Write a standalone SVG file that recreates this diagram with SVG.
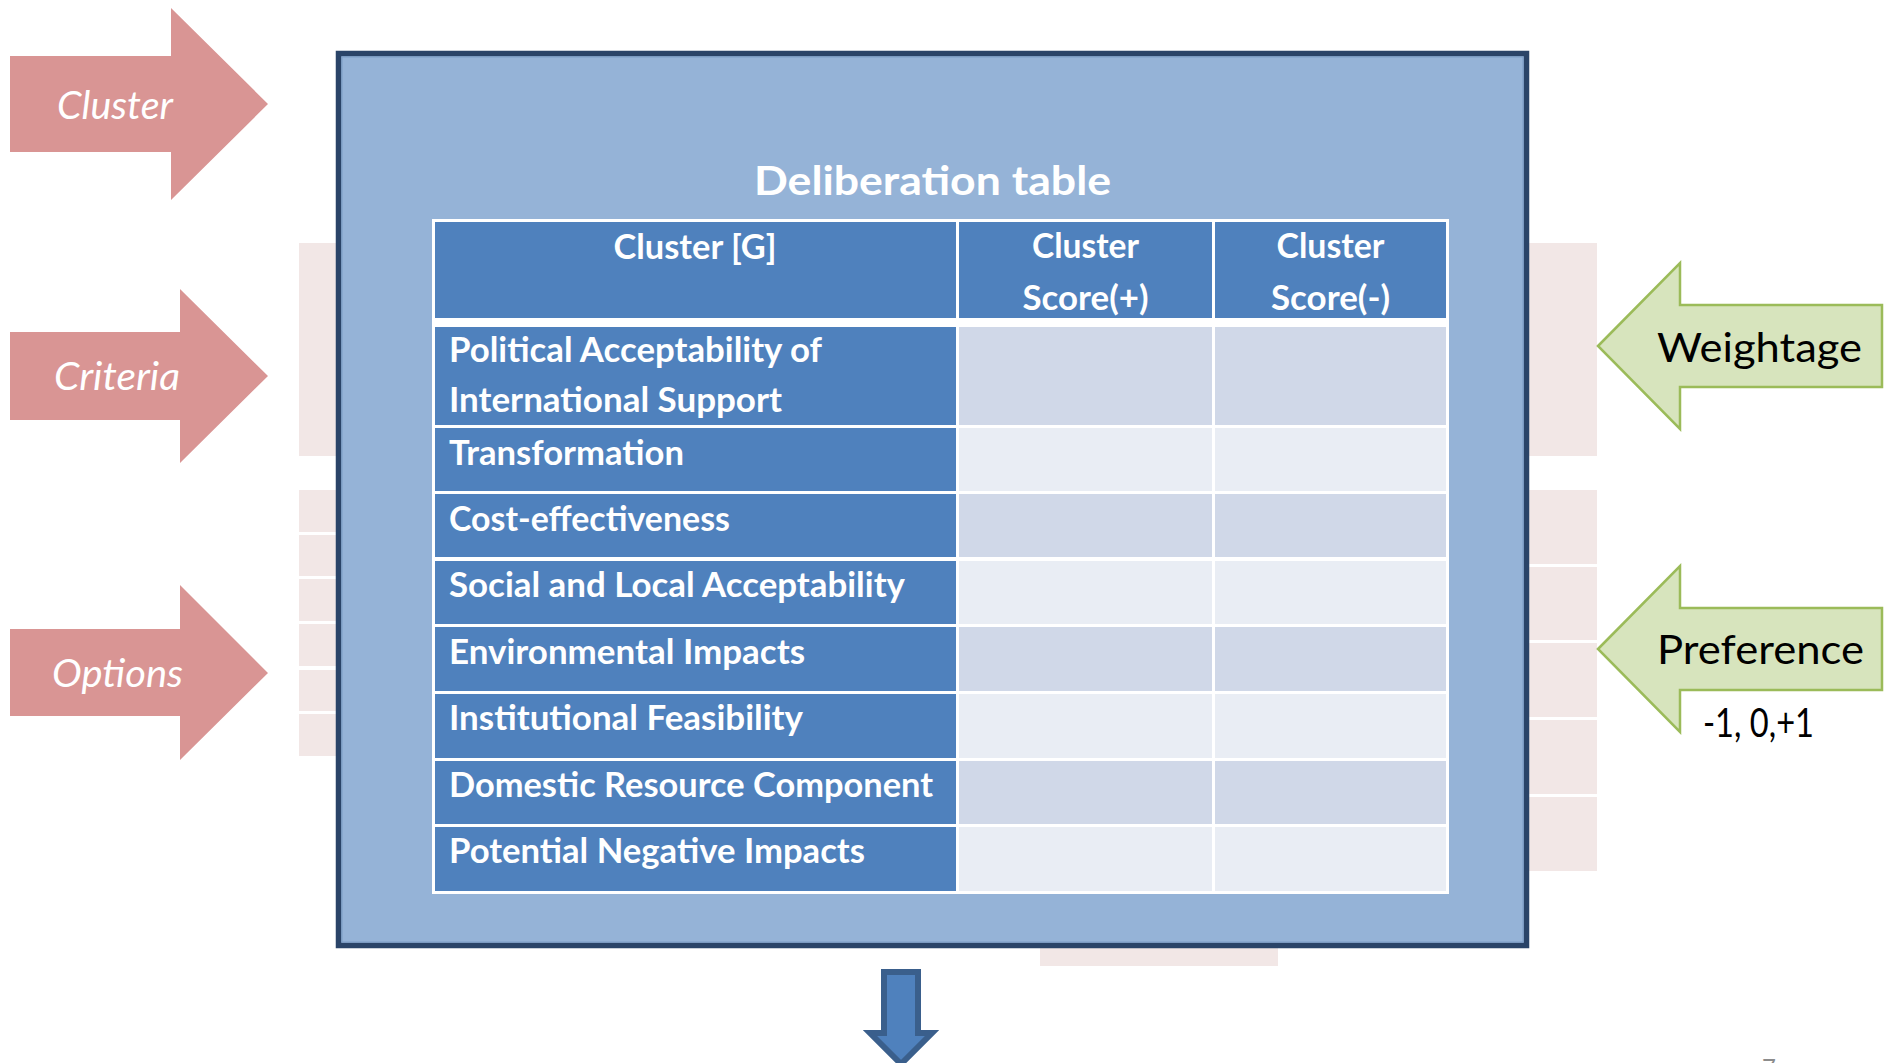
<svg xmlns="http://www.w3.org/2000/svg" width="1885" height="1063" viewBox="0 0 1885 1063">
<style>
.pink{fill:#f2e7e6}
.parrow{fill:#d99594}
.garrow{fill:#d7e4bd;stroke:#9bbb59;stroke-width:2.5;stroke-linejoin:miter}
.hd{fill:#4f81bd}
.d1{fill:#d0d8e8}
.d2{fill:#e9edf4}
.lab{font-family:Lato,"Open Sans","Liberation Sans",sans-serif;font-style:italic;font-size:38px;fill:#ffffff}
.glab{font-family:Lato,"Open Sans","Liberation Sans",sans-serif;font-size:41px;fill:#000000}
.tt{font-family:Lato,"Open Sans","Liberation Sans",sans-serif;font-weight:bold;font-size:33.5px;fill:#ffffff}
.title{font-family:Lato,"Open Sans","Liberation Sans",sans-serif;font-weight:bold;font-size:41px;fill:#ffffff}
</style>
<rect width="1885" height="1063" fill="#ffffff"/>
<g id="background-blocks">
<rect class="pink" x="299" y="243" width="40" height="213"/>
<rect class="pink" x="299" y="490" width="40" height="42"/>
<rect class="pink" x="299" y="535" width="40" height="41"/>
<rect class="pink" x="299" y="579" width="40" height="42"/>
<rect class="pink" x="299" y="624" width="40" height="42"/>
<rect class="pink" x="299" y="670" width="40" height="41"/>
<rect class="pink" x="299" y="714" width="40" height="42"/>
<rect class="pink" x="1527" y="243" width="70" height="213"/>
<rect class="pink" x="1527" y="490" width="70" height="74"/>
<rect class="pink" x="1527" y="567" width="70" height="73"/>
<rect class="pink" x="1527" y="643" width="70" height="74"/>
<rect class="pink" x="1527" y="720" width="70" height="74"/>
<rect class="pink" x="1527" y="797" width="70" height="74"/>
<rect class="pink" x="1040" y="946" width="238" height="20"/>
</g>
<g id="cluster-arrow">
<polygon class="parrow" points="10,56 171,56 171,8 268,104 171,200 171,152 10,152"/>
<text class="lab" x="57" y="119" textLength="116" lengthAdjust="spacingAndGlyphs">Cluster</text>
</g>
<g id="criteria-arrow">
<polygon class="parrow" points="10,332 180,332 180,289 268,376 180,463 180,420 10,420"/>
<text class="lab" x="54" y="390" textLength="126" lengthAdjust="spacingAndGlyphs">Criteria</text>
</g>
<g id="options-arrow">
<polygon class="parrow" points="10,629 180,629 180,585 268,673 180,760 180,716 10,716"/>
<text class="lab" x="52" y="687" textLength="131" lengthAdjust="spacingAndGlyphs">Options</text>
</g>
<g id="weightage-arrow">
<polygon class="garrow" points="1598,346 1680,263 1680,305 1882,305 1882,387 1680,387 1680,429"/>
<text class="glab" x="1657" y="362" textLength="205" lengthAdjust="spacingAndGlyphs">Weightage</text>
</g>
<g id="preference-arrow">
<polygon class="garrow" points="1598,649 1680,566 1680,608 1882,608 1882,690 1680,690 1680,732"/>
<text class="glab" x="1657" y="664" textLength="207" lengthAdjust="spacingAndGlyphs">Preference</text>
<text class="glab" x="1703" y="737" font-size="28" textLength="111" lengthAdjust="spacingAndGlyphs">-1, 0,+1</text>
</g>
<g id="deliberation-table">
<rect x="338.5" y="53.5" width="1188" height="892" fill="#95b3d7" stroke="#2a4468" stroke-width="5.5"/>
<rect x="342" y="57" width="1181" height="885" fill="none" stroke="#7d9dc6" stroke-width="1"/>
<text class="title" x="932.5" y="195" text-anchor="middle" textLength="357" lengthAdjust="spacingAndGlyphs">Deliberation table</text>
<rect x="432" y="219" width="1017" height="675" fill="#ffffff"/>
<rect class="hd" x="435" y="222" width="521" height="96"/>
<rect class="hd" x="959" y="222" width="253" height="96"/>
<rect class="hd" x="1215" y="222" width="231" height="96"/>
<rect class="hd" x="435" y="327" width="521" height="98"/>
<rect class="d1" x="959" y="327" width="253" height="98"/>
<rect class="d1" x="1215" y="327" width="231" height="98"/>
<rect class="hd" x="435" y="428" width="521" height="63"/>
<rect class="d2" x="959" y="428" width="253" height="63"/>
<rect class="d2" x="1215" y="428" width="231" height="63"/>
<rect class="hd" x="435" y="494" width="521" height="63"/>
<rect class="d1" x="959" y="494" width="253" height="63"/>
<rect class="d1" x="1215" y="494" width="231" height="63"/>
<rect class="hd" x="435" y="561" width="521" height="63"/>
<rect class="d2" x="959" y="561" width="253" height="63"/>
<rect class="d2" x="1215" y="561" width="231" height="63"/>
<rect class="hd" x="435" y="627" width="521" height="64"/>
<rect class="d1" x="959" y="627" width="253" height="64"/>
<rect class="d1" x="1215" y="627" width="231" height="64"/>
<rect class="hd" x="435" y="694" width="521" height="64"/>
<rect class="d2" x="959" y="694" width="253" height="64"/>
<rect class="d2" x="1215" y="694" width="231" height="64"/>
<rect class="hd" x="435" y="761" width="521" height="63"/>
<rect class="d1" x="959" y="761" width="253" height="63"/>
<rect class="d1" x="1215" y="761" width="231" height="63"/>
<rect class="hd" x="435" y="827" width="521" height="64"/>
<rect class="d2" x="959" y="827" width="253" height="64"/>
<rect class="d2" x="1215" y="827" width="231" height="64"/>
<text class="tt" x="695" y="259" text-anchor="middle" textLength="163" lengthAdjust="spacingAndGlyphs">Cluster [G]</text>
<text class="tt" x="1085.5" y="258" text-anchor="middle" textLength="107" lengthAdjust="spacingAndGlyphs">Cluster</text>
<text class="tt" x="1085.5" y="310" text-anchor="middle" textLength="126" lengthAdjust="spacingAndGlyphs">Score(+)</text>
<text class="tt" x="1330.5" y="258" text-anchor="middle" textLength="108" lengthAdjust="spacingAndGlyphs">Cluster</text>
<text class="tt" x="1330.5" y="310" text-anchor="middle" textLength="119" lengthAdjust="spacingAndGlyphs">Score(-)</text>
<text class="tt" x="449" y="362" textLength="373" lengthAdjust="spacingAndGlyphs">Political Acceptability of</text>
<text class="tt" x="449" y="412" textLength="333" lengthAdjust="spacingAndGlyphs">International Support</text>
<text class="tt" x="449" y="465" textLength="235" lengthAdjust="spacingAndGlyphs">Transformation</text>
<text class="tt" x="449" y="531" textLength="281" lengthAdjust="spacingAndGlyphs">Cost-effectiveness</text>
<text class="tt" x="449" y="597" textLength="456" lengthAdjust="spacingAndGlyphs">Social and Local Acceptability</text>
<text class="tt" x="449" y="664" textLength="356" lengthAdjust="spacingAndGlyphs">Environmental Impacts</text>
<text class="tt" x="449" y="730" textLength="354" lengthAdjust="spacingAndGlyphs">Institutional Feasibility</text>
<text class="tt" x="449" y="797" textLength="484" lengthAdjust="spacingAndGlyphs">Domestic Resource Component</text>
<text class="tt" x="449" y="863" textLength="416" lengthAdjust="spacingAndGlyphs">Potential Negative Impacts</text>
</g>
<g id="connectors">
<polygon points="884,972 918,972 918,1033 932,1033 901,1064 870,1033 884,1033" fill="#4f81bd" stroke="#3a5f8c" stroke-width="6" stroke-linejoin="miter"/>
</g>
<text x="1762" y="1076" font-family="Lato,'Liberation Sans',sans-serif" font-size="24" fill="#8c8c8c">7</text>
</svg>
